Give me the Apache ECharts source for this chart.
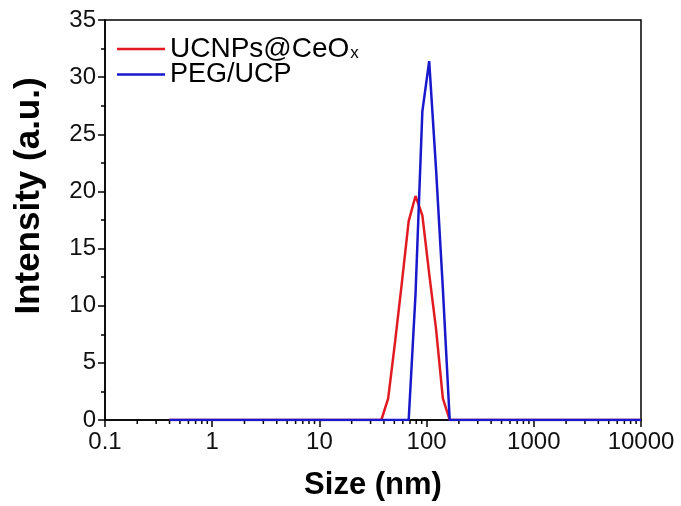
<!DOCTYPE html>
<html>
<head>
<meta charset="utf-8">
<script src="https://cdn.jsdelivr.net/npm/echarts@6/dist/echarts.min.js"></script>
<style>
  html, body { margin: 0; padding: 0; background: #fff; }
  #main { width: 681px; height: 506px; }
</style>
</head>
<body>
<div id="main"></div>
<script>
// DLS size bins (nm) and intensity (a.u.)
var redSize = [0.4, 37.84, 43.82, 50.75, 58.77, 68.06, 78.82, 91.28, 105.7, 122.4, 141.8, 164.2, 10000];
var redVal  = [0,   0,     1.9,   6.8,   12.0,  17.4,  19.6,  17.9,  12.8,  8.0,   1.9,   0,     0];
var blueSize = [0.4, 68.06, 78.82, 91.28, 105.7, 122.4, 141.8, 164.2, 10000];
var blueVal  = [0,   0,     11.0,  27.0,  31.4,  22.0,  11.5,  0,     0];

var xTicks = [0.1, 1, 10, 100, 1000, 10000];
var yTicks = [0, 5, 10, 15, 20, 25, 30, 35];
// minor ticks on log axis: 2..9 inside each decade
var decades = [0.1, 1, 10, 100, 1000];
var minorMul = [2, 3, 4, 5, 6, 7, 8, 9];

function pairs(xs, ys) {
    var out = [];
    for (var i = 0; i < xs.length; i++) out.push([xs[i], ys[i]]);
    return out;
}
var minorTicks = [];
decades.forEach(function (d) {
    minorMul.forEach(function (m) { minorTicks.push([d * m, 0]); });
});

var FONT = 'Liberation Sans';

var option = {
    animation: false,
    backgroundColor: '#fff',
    grid: {
        left: 105, right: 40, top: 20, bottom: 86,
        show: true, borderColor: '#000', borderWidth: 1.5
    },
    legend: {
        data: ['UCNPs@CeOx', 'PEG/UCP'],
        orient: 'vertical',
        left: 112, top: 30,
        icon: 'rect',
        itemWidth: 48, itemHeight: 2.5, itemGap: -2,
        textStyle: {
            fontFamily: FONT, fontSize: 27, color: '#000', lineHeight: 20,
            rich: {
                a: { fontFamily: FONT, fontSize: 28, color: '#000', lineHeight: 20 },
                s: { fontFamily: FONT, fontSize: 17, color: '#000', lineHeight: 12, padding: [8, 0, 0, 1] }
            }
        },
        formatter: function (name) {
            if (name === 'UCNPs@CeOx') return '{a|UCNPs@CeO}{s|x}';
            return name;
        }
    },
    xAxis: {
        type: 'log', logBase: 10, min: 0.1, max: 10000,
        name: 'Size (nm)', nameLocation: 'middle', nameGap: 50,
        nameTextStyle: { fontFamily: FONT, fontSize: 31, fontWeight: 'bold', color: '#000' },
        axisLine: { lineStyle: { color: '#000', width: 1.5 } },
        axisTick: { length: 7, lineStyle: { color: '#000', width: 1.5 } },
        splitLine: { show: false },
        axisLabel: {
            fontFamily: FONT, fontSize: 24, color: '#111', margin: 10,
            formatter: function (v) {
                for (var i = 0; i < xTicks.length; i++) {
                    if (Math.abs(v - xTicks[i]) < xTicks[i] * 1e-6) return String(xTicks[i]);
                }
                return '';
            }
        }
    },
    yAxis: {
        type: 'value', min: 0, max: 35, interval: 5,
        name: 'Intensity (a.u.)', nameLocation: 'middle', nameGap: 58,
        nameTextStyle: {
            fontFamily: FONT, fontSize: 35, fontWeight: 'bold', color: '#000',
            padding: [0, 0, 0, 48]
        },
        axisLine: { show: true, lineStyle: { color: '#000', width: 1.5 } },
        axisTick: { show: true, length: 7, lineStyle: { color: '#000', width: 1.5 } },
        minorTick: { show: true, splitNumber: 2, length: 4, lineStyle: { color: '#000', width: 1.5 } },
        splitLine: { show: false },
        axisLabel: {
            fontFamily: FONT, fontSize: 24, color: '#111', margin: 9,
            formatter: function (v) { return yTicks.indexOf(v) >= 0 ? String(v) : ''; }
        }
    },
    series: [
        {
            name: 'UCNPs@CeOx', type: 'line', symbol: 'none', z: 3,
            lineStyle: { color: '#e11b21', width: 2.5 },
            itemStyle: { color: '#e11b21' },
            data: pairs(redSize, redVal)
        },
        {
            name: 'PEG/UCP', type: 'line', symbol: 'none', z: 4,
            lineStyle: { color: '#1818cc', width: 2.5 },
            itemStyle: { color: '#1818cc' },
            data: pairs(blueSize, blueVal)
        },
        {
            // minor ticks of the log axis
            type: 'custom', silent: true, clip: false, z: 1,
            data: minorTicks,
            renderItem: function (params, api) {
                var p = api.coord([api.value(0), 0]);
                return {
                    type: 'line',
                    shape: { x1: p[0], y1: p[1], x2: p[0], y2: p[1] + 4 },
                    style: { stroke: '#000', lineWidth: 1.5 }
                };
            }
        }
    ]
};

var myChart = echarts.init(document.getElementById('main'));
myChart.setOption(option);
</script>
</body>
</html>
